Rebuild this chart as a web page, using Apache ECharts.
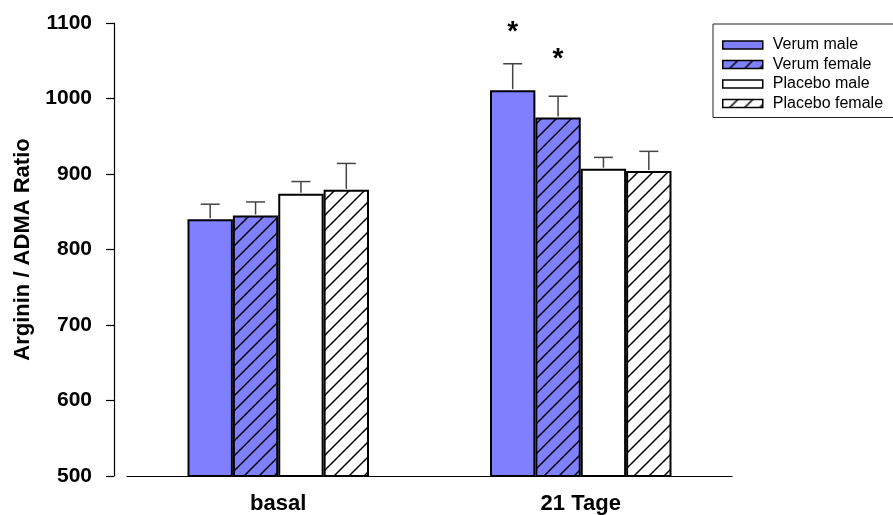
<!DOCTYPE html>
<html><head><meta charset="utf-8">
<script src="https://cdn.jsdelivr.net/npm/echarts@6/dist/echarts.min.js"></script>
<style>html,body{margin:0;padding:0;background:#fff}#c{width:893px;height:515px}</style>
</head><body><div id="c"></div>
<script>
// ---- data ----
const categories = ['basal', '21 Tage'];
const seriesNames = ['Verum male', 'Verum female', 'Placebo male', 'Placebo female'];
const verumMale = [840, 1011];
const verumFemale = [845, 975];
const placeboMale = [874, 907];
const placeboFemale = [879, 904];
const verumMaleErr = [20, 35];
const verumFemaleErr = [18, 28];
const placeboMaleErr = [16, 15];
const placeboFemaleErr = [35, 26];
const verumMaleSig = [false, true];
const verumFemaleSig = [false, true];
const placeboMaleSig = [false, false];
const placeboFemaleSig = [false, false];
const yTickLabels = [500, 600, 700, 800, 900, 1000, 1100];

// ---- build ----
const means = [verumMale, verumFemale, placeboMale, placeboFemale];
const errs = [verumMaleErr, verumFemaleErr, placeboMaleErr, placeboFemaleErr];
const sigs = [verumMaleSig, verumFemaleSig, placeboMaleSig, placeboFemaleSig];
const FONT = '"Liberation Sans", Arial, sans-serif';
const BLUE = '#8080FF';

function hatch(bg) {
  const s = 15;
  const cv = document.createElement('canvas');
  cv.width = s; cv.height = s;
  const ctx = cv.getContext('2d');
  ctx.fillStyle = bg; ctx.fillRect(0, 0, s, s);
  ctx.strokeStyle = '#000'; ctx.lineWidth = 1.5;
  ctx.beginPath();
  ctx.moveTo(-2, s + 2); ctx.lineTo(s + 2, -2);
  ctx.moveTo(-2, 2); ctx.lineTo(2, -2);
  ctx.moveTo(s - 2, s + 2); ctx.lineTo(s + 2, s - 2);
  ctx.stroke();
  return { image: cv, repeat: 'repeat' };
}
const fills = [BLUE, hatch(BLUE), '#FFFFFF', hatch('#FFFFFF')];
const nSeries = 4;
const groupFrac = 0.6;

const series = [];
means.forEach((m, i) => {
  series.push({
    type: 'bar', name: seriesNames[i], data: m,
    barGap: '0%', barCategoryGap: '40%',
    itemStyle: { color: fills[i], borderColor: '#000', borderWidth: 2 },
    z: 2
  });
});
means.forEach((m, i) => {
  series.push({
    type: 'custom',
    z: 3,
    silent: true,
    data: categories.map((c, j) => [j, m[j], errs[i][j], sigs[i][j] ? 1 : 0]),
    renderItem: function (params, api) {
      const j = api.value(0), v = api.value(1), e = api.value(2), s = api.value(3);
      const band = api.size([1, 0])[0];
      const bw = band * groupFrac / nSeries;
      const base = api.coord([j, v]);
      const top = api.coord([j, v + e]);
      const x = base[0] + (i - (nSeries - 1) / 2) * bw;
      const cap = 9.5;
      const st = { stroke: '#444', lineWidth: 1.5 };
      const children = [
        { type: 'line', shape: { x1: x, y1: base[1] - 1, x2: x, y2: top[1] }, style: st },
        { type: 'line', shape: { x1: x - cap, y1: top[1], x2: x + cap, y2: top[1] }, style: st }
      ];
      if (s) {
        children.push({
          type: 'text',
          style: { text: '*', x: x, y: base[1] - 58, align: 'center', verticalAlign: 'middle',
                   font: 'bold 28px ' + FONT, fill: '#000' }
        });
      }
      return { type: 'group', children: children };
    }
  });
});

const chart = echarts.init(document.getElementById('c'), null, { renderer: 'canvas' });
chart.setOption({
  animation: false,
  backgroundColor: '#fff',
  grid: { left: 127, right: 161, top: 23, bottom: 39, containLabel: false, outerBoundsMode: 'none' },
  legend: {
    orient: 'vertical', left: 713, top: 24,
    itemWidth: 40, itemHeight: 8, itemGap: 3.5,
    padding: [13, 30, 6, 9],
    borderColor: '#222', borderWidth: 1,
    icon: 'rect', selectedMode: false,
    itemStyle: { borderWidth: 1.5, borderColor: '#000' },
    textStyle: { fontFamily: FONT, fontSize: 16, color: '#000', padding: [0, 0, 0, 5] },
    data: seriesNames
  },
  xAxis: {
    type: 'category', data: categories,
    axisLine: { lineStyle: { color: '#000', width: 1.2 } },
    axisTick: { show: false },
    axisLabel: { color: '#000', fontFamily: FONT, fontWeight: 'bold', fontSize: 22, margin: 17 }
  },
  yAxis: {
    type: 'value',
    min: yTickLabels[0], max: yTickLabels[yTickLabels.length - 1],
    interval: yTickLabels[1] - yTickLabels[0],
    offset: 13,
    splitLine: { show: false },
    axisLine: { show: true, lineStyle: { color: '#000', width: 1.2 } },
    axisTick: { show: true, inside: false, length: 8, lineStyle: { color: '#000', width: 1.2 } },
    axisLabel: { color: '#000', fontFamily: FONT, fontWeight: 'bold', fontSize: 21, margin: 22,
                 formatter: function (v) { return String(v); } },
    name: 'Arginin / ADMA Ratio',
    nameLocation: 'middle', nameGap: 78, nameRotate: 90,
    nameTextStyle: { color: '#000', fontFamily: FONT, fontWeight: 'bold', fontSize: 22 }
  },
  series: series
});
</script>
</body></html>
